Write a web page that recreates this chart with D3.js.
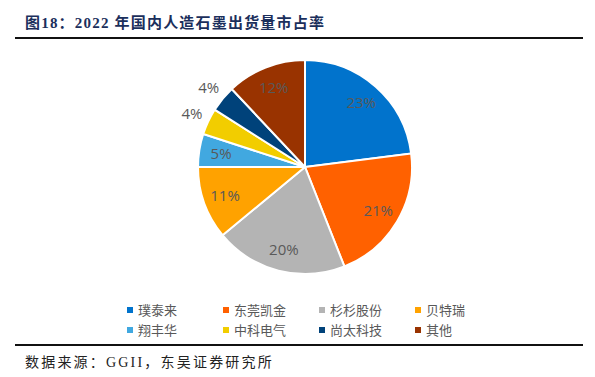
<!DOCTYPE html>
<html>
<head>
<meta charset="utf-8">
<script src="https://cdn.jsdelivr.net/npm/d3@7"></script>
<style>
  body { margin: 0; background: #fff; }
</style>
</head>
<body>
<script>
var width = 595;
var height = 377;

var names = ['璞泰来', '东莞凯金', '杉杉股份', '贝特瑞', '翔丰华', '中科电气', '尚太科技', '其他'];
var shares = [23, 21, 20, 11, 5, 4, 4, 12];
var colors = ['#0173CC', '#FF6100', '#B4B4B4', '#FFA200', '#41A8E0', '#F2CD00', '#00427A', '#993300'];
var outside = [false, false, false, false, false, true, true, false];

var svg = d3.select('body')
            .append('svg')
            .attr('width', width)
            .attr('height', height);

// title + rules
svg.append('text')
   .attr('x', 25)
   .attr('y', 28)
   .attr('font-family', '"Liberation Serif", "Noto Sans CJK SC", serif')
   .attr('font-weight', 'bold')
   .attr('font-size', 15)
   .attr('letter-spacing', 1.2)
   .attr('fill', '#1B2F5C')
   .text('图18：2022 年国内人造石墨出货量市占率');

svg.append('line')
   .attr('x1', 15).attr('x2', 583)
   .attr('y1', 38).attr('y2', 38)
   .attr('stroke', '#111').attr('stroke-width', 2);

svg.append('line')
   .attr('x1', 15).attr('x2', 583)
   .attr('y1', 345).attr('y2', 345)
   .attr('stroke', '#111').attr('stroke-width', 2);

svg.append('text')
   .attr('x', 25)
   .attr('y', 367)
   .attr('font-family', '"Liberation Serif", "Noto Sans CJK SC", serif')
   .attr('font-size', 14)
   .attr('letter-spacing', 2.2)
   .attr('fill', '#222')
   .text('数据来源：GGII，东吴证券研究所');

// pie
var cx = 305, cy = 167, radius = 107;
var pie = d3.pie().sort(null).value(function (d) { return d; });
var arcs = pie(shares);
var arc = d3.arc().innerRadius(0).outerRadius(radius);
var labelIn = d3.arc().innerRadius(85).outerRadius(85);
var labelOut = d3.arc().innerRadius(125).outerRadius(125);

var g = svg.append('g')
           .attr('transform', 'translate(' + cx + ',' + cy + ')');

g.selectAll('path')
 .data(arcs)
 .enter()
 .append('path')
 .attr('d', arc)
 .attr('fill', function (d, i) { return colors[i]; })
 .attr('stroke', '#fff')
 .attr('stroke-width', 2);

g.selectAll('.lbl')
 .data(arcs)
 .enter()
 .append('text')
 .attr('class', 'lbl')
 .attr('transform', function (d, i) {
     var c = outside[i] ? labelOut.centroid(d) : labelIn.centroid(d);
     return 'translate(' + c[0] + ',' + c[1] + ')';
 })
 .attr('text-anchor', 'middle')
 .attr('dy', '0.35em')
 .attr('font-family', '"Open Sans", "Noto Sans", sans-serif')
 .attr('font-size', 15)
 .attr('fill', '#595959')
 .text(function (d) { return d.data + '%'; });

// legend
var legend = svg.append('g')
                .attr('font-family', '"Noto Sans CJK SC", sans-serif')
                .attr('font-size', 13)
                .attr('fill', '#595959');

var items = legend.selectAll('g')
                  .data(names)
                  .enter()
                  .append('g')
                  .attr('transform', function (d, i) {
                      var x = 127 + (i % 4) * 96;
                      var y = 310 + Math.floor(i / 4) * 20;
                      return 'translate(' + x + ',' + y + ')';
                  });

items.append('rect')
     .attr('x', 0).attr('y', -3)
     .attr('width', 6).attr('height', 6)
     .attr('fill', function (d, i) { return colors[i]; });

items.append('text')
     .attr('x', 11)
     .attr('dy', '0.35em')
     .text(function (d) { return d; });
</script>
</body>
</html>
